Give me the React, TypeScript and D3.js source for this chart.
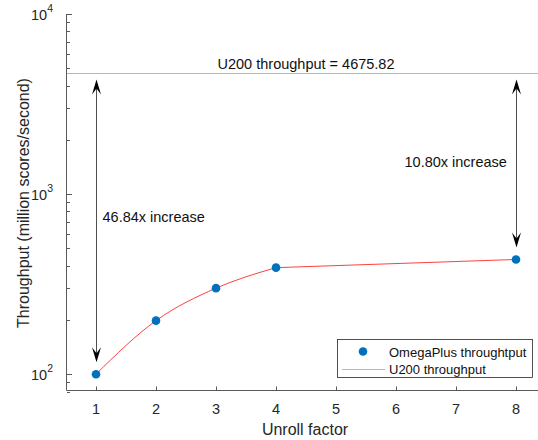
import React, { useEffect, useRef } from "react";
import * as d3 from "d3";

const unroll = [1, 2, 3, 4, 8];
const omegaPlus = [99.83, 198, 300, 390, 432.95];
const u200 = 4675.82;
const xTicks = [1, 2, 3, 4, 5, 6, 7, 8];
const yMajor = [2, 3, 4];
const arrows = [
  { x: 1, low: 99.83, label: "46.84x increase", labelY: 745 },
  { x: 8, low: 432.95, label: "10.80x increase", labelY: 1507 },
];
// the smooth part of the red fit ends at unroll = 4, then it runs straight to 8
const smoothEnd = 4;

export default function App() {
  const svgRef = useRef<SVGSVGElement>(null);

  useEffect(() => {
    if (!svgRef.current) return;
    const width = 538;
    const font = "'Liberation Sans', Arial, sans-serif";
    const axisColor = "#5a5a5a";
    const textColor = "#262626";
    const green = "#7fdf7f";

    const svg = d3.select(svgRef.current);
    svg.selectAll("*").remove();

    const x = d3.scaleLinear().domain([0.5, 8.5]).range([66, 546]);
    const y = d3.scaleLog().domain([80, 10000]).range([391.5, 14]);
    const left = 67;
    const bottom = 390.5;

    svg.append("defs").append("clipPath").attr("id", "plot").append("rect")
      .attr("x", left).attr("y", 0).attr("width", width - left).attr("height", bottom);

    // axis lines
    svg.append("line").attr("x1", left - 0.5).attr("x2", left - 0.5).attr("y1", 14).attr("y2", bottom)
      .attr("stroke", axisColor);
    svg.append("line").attr("x1", left - 0.5).attr("x2", width).attr("y1", bottom).attr("y2", bottom)
      .attr("stroke", axisColor);

    // y ticks (major + minor), inward
    for (let e = 1; e <= 4; e++) {
      for (let m = 1; m <= 9; m++) {
        const v = m * Math.pow(10, e);
        if (v < 80 || v > 10000) continue;
        const yy = Math.round(y(v)) + 0.5;
        svg.append("line").attr("x1", left).attr("x2", left + (m === 1 ? 5 : 3))
          .attr("y1", yy).attr("y2", yy).attr("stroke", axisColor);
      }
    }
    yMajor.forEach(e => {
      const t = svg.append("text")
        .attr("x", 53).attr("y", y(Math.pow(10, e)) + 5.5)
        .attr("text-anchor", "end")
        .style("font-family", font).style("font-size", "14.5px").style("fill", textColor);
      t.append("tspan").text("10");
      t.append("tspan").attr("dy", -8).style("font-size", "10.5px").text(String(e));
    });

    // x ticks
    xTicks.forEach(v => {
      const xx = Math.round(x(v)) + 0.5;
      svg.append("line").attr("x1", xx).attr("x2", xx).attr("y1", bottom).attr("y2", bottom - 4)
        .attr("stroke", axisColor);
      svg.append("text").attr("x", x(v)).attr("y", 413.5)
        .attr("text-anchor", "middle")
        .style("font-family", font).style("font-size", "14.5px").style("fill", textColor)
        .text(v);
    });

    svg.append("text").attr("x", 305).attr("y", 435).attr("text-anchor", "middle")
      .style("font-family", font).style("font-size", "16px").style("fill", textColor)
      .text("Unroll factor");
    svg.append("text")
      .attr("transform", "translate(29,203) rotate(-90)")
      .attr("text-anchor", "middle")
      .style("font-family", font).style("font-size", "16px").style("fill", textColor)
      .text("Throughput (million scores/second)");

    const plot = svg.append("g").attr("clip-path", "url(#plot)");

    // U200 line
    const gy = Math.round(y(u200)) + 0.5;
    plot.append("line").attr("x1", left).attr("x2", width)
      .attr("y1", gy).attr("y2", gy)
      .attr("stroke", green).attr("stroke-width", 1);
    svg.append("text").attr("x", 306).attr("y", 69).attr("text-anchor", "middle")
      .style("font-family", font).style("font-size", "14.5px").style("fill", "#111")
      .text(`U200 throughput = ${u200}`);

    // fitted curve: smooth up to 4, straight after
    const pts = unroll.map((u, i) => [u, omegaPlus[i]] as [number, number]);
    const split = unroll.indexOf(smoothEnd);
    const smooth = d3.line<[number, number]>()
      .x(d => x(d[0])).y(d => y(d[1]))
      .curve(d3.curveMonotoneX);
    const straight = d3.line<[number, number]>()
      .x(d => x(d[0])).y(d => y(d[1]));
    plot.append("path").attr("d", smooth(pts.slice(0, split + 1)))
      .attr("fill", "none").attr("stroke", "#ff2a2a").attr("stroke-width", 0.9);
    plot.append("path").attr("d", straight(pts.slice(split)))
      .attr("fill", "none").attr("stroke", "#ff2a2a").attr("stroke-width", 0.9);

    plot.selectAll(".pt").data(omegaPlus).enter().append("circle")
      .attr("cx", (_, i) => x(unroll[i])).attr("cy", d => y(d)).attr("r", 4.3)
      .attr("fill", "#0072BD");

    // double arrows
    const head = (tx: number, ty: number, dir: number) => {
      const L = 15, W = 4.5, back = 9;
      return `M${tx},${ty} L${tx - W},${ty + dir * L} L${tx},${ty + dir * back} L${tx + W},${ty + dir * L} Z`;
    };
    arrows.forEach(a => {
      const ax = Math.round(x(a.x)) + 0.5;
      const top = y(u200) + 6;
      const bot = y(a.low) - 12;
      svg.append("line").attr("x1", ax).attr("x2", ax).attr("y1", top + 8).attr("y2", bot - 8)
        .attr("stroke", "#222").attr("stroke-width", 0.8);
      svg.append("path").attr("d", head(ax, top, 1)).attr("fill", "#000");
      svg.append("path").attr("d", head(ax, bot, -1)).attr("fill", "#000");
      const lx = a.x === 1 ? ax + 6 : ax - 112;
      svg.append("text").attr("x", lx).attr("y", y(a.labelY) + 5)
        .style("font-family", font).style("font-size", "14.5px").style("fill", "#111")
        .text(a.label);
    });

    // legend
    const lg = svg.append("g");
    lg.append("rect").attr("x", 337.5).attr("y", 339.5).attr("width", 195).attr("height", 38)
      .attr("fill", "#fff").attr("stroke", "#262626").attr("stroke-width", 0.8);
    lg.append("circle").attr("cx", 363).attr("cy", 351.5).attr("r", 4.3).attr("fill", "#0072BD");
    lg.append("text").attr("x", 389).attr("y", 356.5)
      .style("font-family", font).style("font-size", "13px").style("fill", "#111")
      .text("OmegaPlus throughtput");
    lg.append("line").attr("x1", 342).attr("x2", 385).attr("y1", 369.5).attr("y2", 369.5)
      .attr("stroke", green);
    lg.append("text").attr("x", 389).attr("y", 374)
      .style("font-family", font).style("font-size", "13px").style("fill", "#111")
      .text("U200 throughput");
  }, []);

  return (
    <svg ref={svgRef} width={538} height={440}
      style={{ position: "absolute", left: 0, top: 0, background: "#fff" }} />
  );
}
